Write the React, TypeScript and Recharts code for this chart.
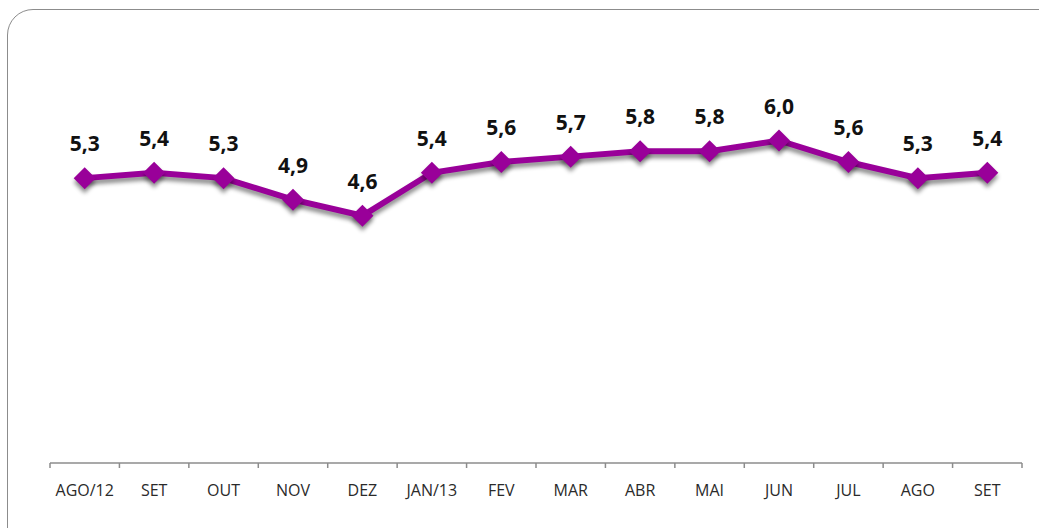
import React from "react";
import { LineChart, Line, XAxis, YAxis, LabelList } from "recharts";

const months = ["AGO/12", "SET", "OUT", "NOV", "DEZ", "JAN/13", "FEV", "MAR", "ABR", "MAI", "JUN", "JUL", "AGO", "SET"];
const rates = [5.3, 5.4, 5.3, 4.9, 4.6, 5.4, 5.6, 5.7, 5.8, 5.8, 6.0, 5.6, 5.3, 5.4];

const data = months.map((m, i) => ({ month: m, rate: rates[i] }));

const PURPLE = "#990099";
const W = 1039;
const H = 528;
const MARGIN = { top: 33, right: 17, bottom: 0, left: 50 };
const BAND = (W - MARGIN.left - MARGIN.right) / months.length;
const HALF = BAND / 2;

const Diamond = (props: any) => {
  const { cx, cy } = props;
  if (cx == null || cy == null) return null;
  const s = 11;
  return (
    <path
      d={`M${cx},${cy - s} L${cx + s},${cy} L${cx},${cy + s} L${cx - s},${cy} Z`}
      fill={PURPLE}
      stroke="none"
    />
  );
};

const ValueLabel = (props: any) => {
  const { x, y, value } = props;
  return (
    <text
      x={x}
      y={y - 27}
      textAnchor="middle"
      fontFamily="'Open Sans', sans-serif"
      fontWeight={700}
      fontSize={21}
      fill="#111"
    >
      {String(value.toFixed(1)).replace(".", ",")}
    </text>
  );
};

const Tick = (props: any) => {
  const { x, y, payload, index } = props;
  const isLast = index === months.length - 1;
  return (
    <g>
      <line x1={x - HALF} y1={y - 8} x2={x - HALF} y2={y - 3} stroke="#8c8c8c" strokeWidth={1.5} />
      {isLast && (
        <line x1={x + HALF} y1={y - 8} x2={x + HALF} y2={y - 3} stroke="#8c8c8c" strokeWidth={1.5} />
      )}
      <text
        x={x}
        y={y + 25}
        textAnchor="middle"
        fontFamily="'Open Sans', sans-serif"
        fontSize={16}
        fill="#2a2a2a"
      >
        {payload.value}
      </text>
    </g>
  );
};

export default function App() {
  return (
    <div
      style={{
        position: "absolute",
        left: 0,
        top: 0,
        width: W,
        height: H,
        overflow: "hidden",
        background: "#fff",
      }}
    >
      <style>{`.shadowed .recharts-line-curve, .shadowed .recharts-line-dots { filter: drop-shadow(0px 4px 2px rgba(0,0,0,0.45)); }`}</style>
      <div
        style={{
          position: "absolute",
          left: 7,
          top: 9,
          width: 1060,
          height: 560,
          border: "1.5px solid #8c8c8c",
          borderRadius: 26,
          boxSizing: "border-box",
        }}
      />
      <div className="shadowed" style={{ position: "absolute", left: 0, top: 0 }}>
        <LineChart width={W} height={H} data={data} margin={MARGIN}>
          <XAxis
            dataKey="month"
            axisLine={{ stroke: "#8c8c8c", strokeWidth: 1.5 }}
            tickLine={false}
            interval={0}
            tick={<Tick />}
            height={65}
            padding={{ left: HALF, right: HALF }}
          />
          <YAxis hide domain={[0, 8]} />
          <Line
            type="linear"
            dataKey="rate"
            stroke={PURPLE}
            strokeWidth={6}
            dot={<Diamond />}
            activeDot={false}
            isAnimationActive={false}
          >
            <LabelList dataKey="rate" content={<ValueLabel />} />
          </Line>
        </LineChart>
      </div>
    </div>
  );
}
